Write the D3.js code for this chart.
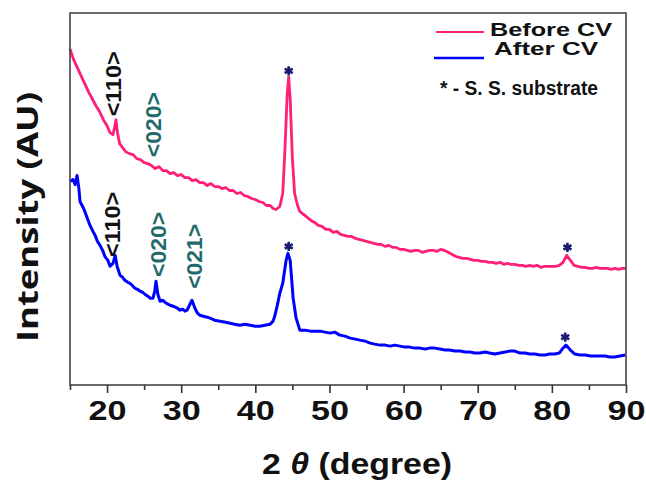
<!DOCTYPE html>
<html>
<head>
<meta charset="utf-8">
<script src="https://cdn.jsdelivr.net/npm/d3@7"></script>
<style>
  body { margin: 0; background: #fff; }
</style>
</head>
<body>
<svg width="646" height="482" font-family="Liberation Sans, Arial, Helvetica, sans-serif"></svg>
<script>
// XRD patterns: [2theta (deg), intensity (a.u.)]
var beforeCV = [[15.0,336],[15.5,325],[16.0,317],[16.5,309],[17.0,301],[17.5,293],[18.0,286],[18.5,279],[19.0,273],[19.5,265],
  [20.0,259],[20.4,252],[20.8,250],[21.0,257],[21.2,265],[21.4,252],[21.7,241],[22.0,238],[22.5,233],[23.0,231],
  [23.5,230],[24.0,226],[24.5,225],[25.0,222],[25.5,221],[26.0,219],[26.5,216],[27.0,218],[27.5,214],[28.0,214],
  [28.5,211],[29.0,212],[29.5,209],[30.0,210],[30.5,207],[31.0,207],[31.5,204],[32.0,205],[32.5,202],[33.0,202],
  [33.5,199],[34.0,201],[34.5,198],[35.0,198],[35.5,196],[36.0,197],[36.5,194],[37.0,194],[37.5,191],[38.0,192],
  [38.5,189],[39.0,188],[39.5,186],[40.0,185],[40.5,183],[41.0,182],[41.5,179],[42.0,179],[42.4,176],[42.8,175],
  [43.3,178],[43.7,191],[44.0,236],[44.3,291],[44.5,308],[44.7,286],[45.0,226],[45.3,191],[45.7,179],[46.0,173],
  [46.5,170],[47.0,167],[47.5,164],[48.0,162],[48.5,159],[49.0,158],[49.5,155],[50.0,155],[50.5,152],[51.0,153],
  [51.5,150],[52.0,149],[52.5,148],[53.0,148],[53.5,146],[54.0,145],[54.5,144],[55.0,143],[55.5,142],[56.0,141],
  [56.5,140],[57.0,140],[57.5,138],[58.0,139],[58.5,137],[59.0,137],[59.5,135],[60.0,135],[60.5,134],[61.0,133],
  [61.5,134],[62.0,134],[62.5,132],[63.0,133],[63.5,134],[64.0,134],[64.5,133],[65.0,135],[65.5,134],[66.0,132],
  [66.5,130],[67.0,128],[67.5,127],[68.0,126],[68.5,126],[69.0,125],[69.5,124],[70.0,124],[70.5,123],[71.0,123],
  [71.5,122],[72.0,122],[72.5,121],[73.0,122],[73.5,120],[74.0,121],[74.5,120],[75.0,120],[75.5,119],[76.0,119],
  [76.5,118],[77.0,119],[77.5,118],[78.0,119],[78.5,117],[79.0,118],[79.5,118],[80.0,118],[80.5,118],[81.0,119],
  [81.5,122],[82.0,129],[82.5,124],[83.0,119],[83.5,118],[84.0,117],[84.5,117],[85.0,116],[85.5,116],[86.0,117],
  [86.5,116],[87.0,116],[87.5,116],[88.0,115],[88.5,116],[89.0,115],[89.5,116],[90.0,116]];

var afterCV = [[15.0,203],[15.4,205],[15.7,200],[15.95,209],[16.2,196],[16.35,183],[16.7,178],[17.0,173],[17.4,165],[17.7,159],
  [18.1,153],[18.4,149],[18.7,143],[19.05,139],[19.4,134],[19.7,128],[20.1,124],[20.4,118],[20.8,121],[21.1,129],
  [21.35,118],[21.75,109],[22.1,107],[22.4,104],[22.8,102],[23.1,101],[23.5,98],[23.8,96],[24.1,95],[24.45,93],
  [24.8,92],[25.1,90],[25.5,88],[25.8,86],[26.2,86],[26.45,94],[26.6,103],[26.85,90],[27.15,83],[27.5,84],
  [27.8,82],[28.2,80],[28.5,79],[28.9,78],[29.2,77],[29.5,76],[29.85,74],[30.2,75],[30.5,73],[30.8,74],
  [31.05,78],[31.45,84],[31.85,76],[32.2,71],[32.5,69],[33.0,68],[33.5,67],[33.9,66],[34.5,64],[35.25,63],
  [36.0,62],[36.6,61],[37.2,60],[37.9,59],[38.6,60],[39.3,59],[40.0,58],[40.6,58],[41.3,59],[42.0,60],
  [42.4,63],[42.65,69],[43.0,80],[43.3,91],[43.7,101],[44.15,124],[44.4,131],[44.7,124],[45.1,86],[45.5,66],
  [46.0,54],[46.7,54],[47.4,53],[48.0,53],[48.7,53],[49.4,52],[50.1,51],[50.7,52],[51.4,49],[52.1,48],
  [52.8,46],[53.5,45],[54.1,44],[54.8,43],[55.5,41],[56.1,40],[56.8,39],[57.5,39],[58.2,38],[58.8,39],
  [59.5,38],[60.2,37],[60.8,37],[61.5,36],[62.2,36],[62.9,35],[63.5,36],[64.2,36],[64.9,35],[65.6,34],
  [66.2,34],[66.9,33],[67.6,33],[68.3,32],[68.9,32],[69.6,31],[70.3,31],[71.0,32],[71.6,31],[72.3,30],
  [73.0,31],[73.7,32],[74.3,33],[75.0,33],[75.7,31],[76.4,31],[77.0,30],[77.7,30],[78.4,29],[79.1,29],
  [79.7,30],[80.4,30],[81.0,31],[81.4,35],[81.9,39],[82.5,34],[83.1,30],[83.8,29],[84.5,29],[85.2,28],
  [85.8,28],[86.5,28],[87.2,28],[87.8,27],[88.5,27],[89.2,28],[89.9,29]];

// reflection labels (hkl), centre position in data coords
var hklText  = ["<110>", "<020>", "<110>", "<020>", "<021>"];
var hklTheta = [20.9, 26.3, 20.8, 26.9, 31.8];
var hklInt   = [301, 260, 160, 140, 128];
var hklColor = ["#111", "#1f6b6b", "#111", "#1f6b6b", "#1f6b6b"];

// substrate peak markers
var starTheta = [44.5, 82.1, 44.5, 81.8];
var starInt   = [314, 137, 138, 47];

var xTicks = [20, 30, 40, 50, 60, 70, 80, 90];

var svg = d3.select("svg");
var margin = {left: 70, right: 20, top: 13, bottom: 97};
var width = 646 - margin.left - margin.right,
    height = 482 - margin.top - margin.bottom;

var x = d3.scaleLinear().domain([15, 90]).range([margin.left, margin.left + width]);
var y = d3.scaleLinear().domain([-1, 372]).range([margin.top + height, margin.top]);

var line = d3.line()
    .x(d => x(d[0]))
    .y(d => y(d[1]));

svg.append("path")
    .datum(beforeCV)
    .attr("d", line)
    .attr("fill", "none")
    .attr("stroke", "#ff1f78")
    .attr("stroke-width", 2.8)
    .attr("stroke-linejoin", "round");

svg.append("path")
    .datum(afterCV)
    .attr("d", line)
    .attr("fill", "none")
    .attr("stroke", "#0000ff")
    .attr("stroke-width", 3)
    .attr("stroke-linejoin", "round");

// frame
svg.append("rect")
    .attr("x", margin.left).attr("y", margin.top)
    .attr("width", width).attr("height", height)
    .attr("fill", "none").attr("stroke", "#444").attr("stroke-width", 1.6);

// x axis
var xAxis = svg.append("g")
    .attr("transform", "translate(0," + (margin.top + height) + ")")
    .call(d3.axisBottom(x).tickValues(xTicks).tickSize(8).tickSizeOuter(0));
xAxis.select(".domain").remove();
xAxis.selectAll("line").attr("stroke", "#333").attr("stroke-width", 1.6);
xAxis.selectAll("text")
    .attr("y", 35)
    .attr("dy", null)
    .attr("fill", "#111")
    .attr("font-family", "Liberation Sans, Arial, sans-serif")
    .attr("font-size", 27)
    .attr("font-weight", "bold")
    .attr("textLength", 38)
    .attr("lengthAdjust", "spacingAndGlyphs");

svg.append("g")
    .attr("transform", "translate(0," + (margin.top + height) + ")")
    .call(d3.axisBottom(x).tickValues(d3.range(15, 91, 10)).tickSize(5).tickFormat(""))
    .call(g => g.select(".domain").remove())
    .selectAll("line").attr("stroke", "#333").attr("stroke-width", 1.6);

// axis titles
var xt = svg.append("text")
    .attr("x", 357).attr("y", 474)
    .attr("text-anchor", "middle")
    .attr("font-size", 29)
    .attr("font-weight", "bold")
    .attr("fill", "#111")
    .attr("textLength", 190)
    .attr("lengthAdjust", "spacingAndGlyphs");
xt.append("tspan").text("2 ");
xt.append("tspan").attr("font-style", "italic").text("θ");
xt.append("tspan").text(" (degree)");

svg.append("text")
    .attr("transform", "translate(38,217) rotate(-90)")
    .attr("text-anchor", "middle")
    .attr("font-family", "Open Sans, sans-serif")
    .attr("font-size", 28)
    .attr("font-weight", "bold")
    .attr("fill", "#111")
    .attr("textLength", 250)
    .attr("lengthAdjust", "spacingAndGlyphs")
    .text("Intensity (AU)");

// hkl labels
svg.selectAll(".hkl")
    .data(d3.range(hklText.length))
    .enter().append("text")
    .attr("class", "hkl")
    .attr("transform", i => "translate(" + x(hklTheta[i]) + "," + y(hklInt[i]) + ") rotate(-90)")
    .attr("text-anchor", "middle")
    .attr("dominant-baseline", "central")
    .attr("font-size", 22)
    .attr("font-weight", "bold")
    .attr("fill", i => hklColor[i])
    .attr("textLength", 65)
    .attr("lengthAdjust", "spacingAndGlyphs")
    .text(i => hklText[i]);

// stars
svg.selectAll(".star")
    .data(d3.range(starTheta.length))
    .enter().append("path")
    .attr("class", "star")
    .attr("transform", i => "translate(" + x(starTheta[i]) + "," + y(starInt[i]) + ")")
    .attr("d", d3.symbol(d3.symbolAsterisk, 60))
    .attr("fill", "none")
    .attr("stroke", "#1a1a70")
    .attr("stroke-width", 2.6);

// legend
var legend = svg.append("g");
legend.append("line")
    .attr("x1", 436).attr("x2", 484).attr("y1", 32).attr("y2", 32)
    .attr("stroke", "#ff1f78").attr("stroke-width", 2);
legend.append("text")
    .attr("x", 490).attr("y", 36)
    .attr("font-size", 19).attr("font-weight", "bold").attr("fill", "#111")
    .attr("textLength", 122).attr("lengthAdjust", "spacingAndGlyphs")
    .text("Before CV");
legend.append("line")
    .attr("x1", 434).attr("x2", 484).attr("y1", 58).attr("y2", 58)
    .attr("stroke", "#0000ff").attr("stroke-width", 2.6);
legend.append("text")
    .attr("x", 494).attr("y", 55)
    .attr("font-size", 19).attr("font-weight", "bold").attr("fill", "#111")
    .attr("textLength", 104).attr("lengthAdjust", "spacingAndGlyphs")
    .text("After CV");
legend.append("text")
    .attr("x", 440).attr("y", 95)
    .attr("font-size", 20).attr("font-weight", "bold").attr("fill", "#111")
    .attr("textLength", 158).attr("lengthAdjust", "spacingAndGlyphs")
    .text("* - S. S. substrate");
</script>
</body>
</html>
